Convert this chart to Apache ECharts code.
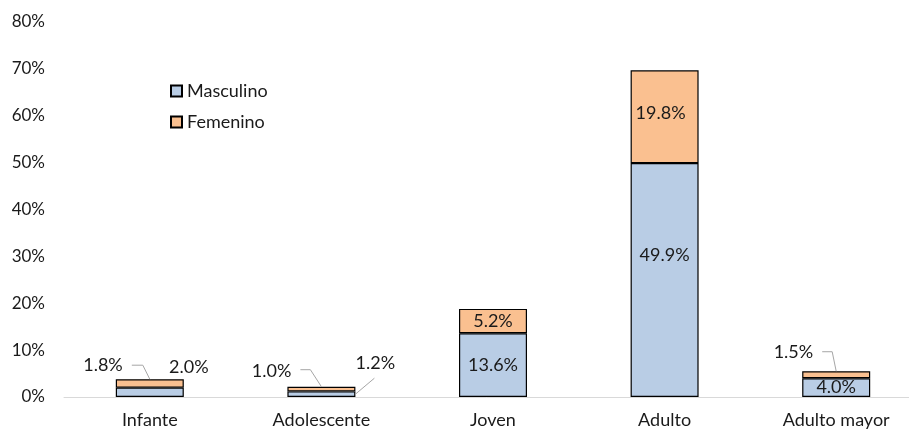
<!DOCTYPE html>
<html>
<head>
<meta charset="utf-8">
<script src="https://cdn.jsdelivr.net/npm/echarts@6/dist/echarts.min.js"></script>
<style>
  html, body { margin: 0; padding: 0; background: #fff; }
  #chart { width: 909px; height: 430px; }
</style>
</head>
<body>
<div id="chart"></div>
<script>
// Age groups and share of each sex (percent)
const categories = ['Infante', 'Adolescente', 'Joven', 'Adulto', 'Adulto mayor'];
const masculino = [2.0, 1.2, 13.6, 49.9, 4.0];
const femenino = [1.8, 1.0, 5.2, 19.8, 1.5];
const yMax = 80;
const yStep = 10;

const FONT = 'Lato';
const TEXT = '#1a1a1a';
const FS = 18;
const BAR_W = 68;

// Per-bar label placement (small segments get their label outside the bar)
const mascLabelPlacement = {
  0: { position: [73, -20], align: 'center', verticalAlign: 'middle' },
  1: { position: [88, -28], align: 'center', verticalAlign: 'middle' },
  3: { offset: [0, -25] }
};
const femLabelPlacement = {
  0: { position: [7, -14], align: 'right', verticalAlign: 'middle' },
  1: { position: [4, -16], align: 'right', verticalAlign: 'middle' },
  3: { offset: [-4, -4] },
  4: { position: [11, -19], align: 'right', verticalAlign: 'middle' }
};

// Leader lines from outside labels to their segments (pixel offsets from the anchor)
const leaders = [
  { cat: 0, seg: 'fem', anchor: 'top', pts: [[-18, -14], [-7, -14]] },
  { cat: 1, seg: 'fem', anchor: 'top', pts: [[-21, -17], [-11, -17]] },
  { cat: 1, seg: 'masc', anchor: 'right', pts: [[19, -16]] },
  { cat: 4, seg: 'fem', anchor: 'top', pts: [[-14, -19.5], [-4, -19.5]] }
];

function fmt(v) { return v.toFixed(1) + '%'; }

function barData(values, placement) {
  return values.map(function (v, i) {
    const p = placement[i];
    if (!p) return v;
    return { value: v, label: Object.assign({}, p) };
  });
}

const chart = echarts.init(document.getElementById('chart'));

chart.setOption({
  animation: false,
  backgroundColor: '#fff',
  textStyle: { fontFamily: FONT },
  // the plot area runs slightly past the right edge of the canvas
  grid: { left: 64, top: 22, width: 858, height: 375, containLabel: false, outerBoundsMode: 'none' },
  legend: {
    orient: 'vertical',
    left: 170,
    top: 82,
    padding: 0,
    itemWidth: 11,
    itemHeight: 11,
    itemGap: 13,
    icon: 'rect',
    textStyle: { fontFamily: FONT, fontSize: FS, color: TEXT },
    data: ['Masculino', 'Femenino']
  },
  xAxis: {
    type: 'category',
    data: categories,
    axisLine: { lineStyle: { color: '#D9D9D9', width: 1 } },
    axisTick: { show: false },
    axisLabel: { fontFamily: FONT, fontSize: FS, color: TEXT, margin: 14 }
  },
  yAxis: {
    type: 'value',
    min: 0,
    max: yMax,
    interval: yStep,
    axisLine: { show: false },
    axisTick: { show: false },
    splitLine: { show: false },
    axisLabel: { formatter: '{value}%', fontFamily: FONT, fontSize: 17, color: TEXT, margin: 19 }
  },
  series: [
    {
      name: 'Masculino',
      type: 'bar',
      stack: 'total',
      barWidth: BAR_W,
      data: barData(masculino, mascLabelPlacement),
      itemStyle: { color: '#B9CDE5', borderColor: '#000', borderWidth: 1.2 },
      label: {
        show: true, position: 'inside', fontFamily: FONT, fontSize: FS, color: TEXT,
        formatter: function (p) { return fmt(masculino[p.dataIndex]); }
      }
    },
    {
      name: 'Femenino',
      type: 'bar',
      stack: 'total',
      barWidth: BAR_W,
      data: barData(femenino, femLabelPlacement),
      itemStyle: { color: '#FAC090', borderColor: '#000', borderWidth: 1.2 },
      label: {
        show: true, position: 'inside', fontFamily: FONT, fontSize: FS, color: TEXT,
        formatter: function (p) { return fmt(femenino[p.dataIndex]); }
      }
    },
    {
      name: 'leaders',
      type: 'custom',
      silent: true,
      z: 5,
      data: leaders.map(function (l) { return [l.cat, 0]; }),
      renderItem: function (params, api) {
        const l = leaders[params.dataIndex];
        const m = masculino[l.cat];
        const f = femenino[l.cat];
        let a;
        if (l.anchor === 'top') {
          const top = l.seg === 'fem' ? m + f : m;
          a = api.coord([l.cat, top]);
        } else {
          const lo = l.seg === 'fem' ? m : 0;
          const hi = l.seg === 'fem' ? m + f : m;
          a = api.coord([l.cat, (lo + hi) / 2]);
          a = [a[0] + BAR_W / 2, a[1]];
        }
        const points = l.pts.map(function (p) { return [a[0] + p[0], a[1] + p[1]]; });
        points.push(a);
        return {
          type: 'polyline',
          shape: { points: points },
          style: { stroke: '#A6A6A6', lineWidth: 1, fill: null }
        };
      }
    }
  ]
});
</script>
</body>
</html>
